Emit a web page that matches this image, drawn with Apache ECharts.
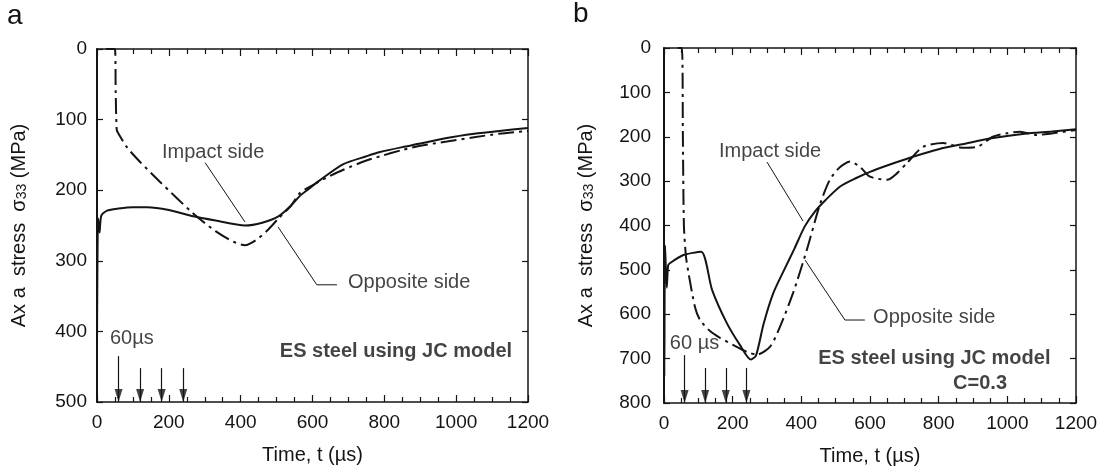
<!DOCTYPE html>
<html>
<head>
<meta charset="utf-8">
<script src="https://cdn.jsdelivr.net/npm/echarts@6/dist/echarts.min.js"></script>
<style>
  html, body { margin: 0; padding: 0; background: #fff; }
  #chart { width: 1103px; height: 472px; }
</style>
</head>
<body>
<div id="chart"></div>
<script>
// ---- Panel a: ES steel, Johnson-Cook model ----
const aImpactTime   = [0, 3, 7, 12, 28, 60, 100, 140, 200, 268, 330, 412, 460, 505, 540, 565, 585, 620, 686, 750, 788, 850, 900, 974, 1050, 1120, 1200];
const aImpactStress = [420, 240, 260, 236, 229, 226, 224, 224, 228, 237, 243, 250, 246, 237, 222, 208, 200, 186, 163, 152, 146, 139, 134, 126, 120, 116, 112];
const aOppTime      = [25, 50, 52, 55, 60, 83, 120, 175, 268, 330, 380, 412, 450, 480, 505, 540, 565, 600, 640, 686, 750, 788, 850, 900, 974, 1050, 1120, 1200];
const aOppStress    = [0, 0, 60, 115, 120, 139, 160, 188, 233, 258, 273, 278, 268, 254, 240, 222, 204, 193, 182, 171, 158, 152, 143, 137, 131, 125, 120, 116];

// ---- Panel b: ES steel, Johnson-Cook model, C = 0.3 ----
const bImpactTime   = [0, 1, 3, 8, 12, 17, 55, 108, 140, 183, 221, 253, 268, 290, 318, 350, 380, 410, 440, 470, 513, 560, 600, 660, 725, 800, 880, 958, 1050, 1130, 1200];
const bImpactStress = [450, 740, 445, 540, 490, 485, 467, 459, 545, 620, 669, 702, 693, 622, 553, 500, 452, 402, 368, 343, 312, 293, 279, 262, 245, 228, 215, 203, 193, 188, 183];
const bOppTime      = [40, 52, 55, 58, 64, 72, 90, 105, 134, 163, 201, 242, 271, 309, 338, 376, 416, 454, 483, 513, 542, 571, 600, 650, 679, 708, 754, 813, 871, 912, 958, 1000, 1037, 1086, 1133, 1200];
const bOppStress    = [0, 0, 200, 400, 470, 510, 583, 613, 638, 653, 669, 685, 691, 673, 628, 552, 455, 353, 297, 268, 256, 268, 290, 297, 282, 259, 223, 214, 225, 223, 200, 192, 189, 196, 192, 185];

// Output time steps marked with arrows (µs)
const snapshotTimes = [60, 120, 180, 240];

const FONT = "'Liberation Sans', Arial, Helvetica, sans-serif";
const INK = '#141414';
const DASH_DOT = [16, 5, 3, 5];

function pairs(ts, vs) { return ts.map((t, i) => [t, vs[i]]); }

function xAxes(gridIndex) {
  const common = {
    type: 'value', gridIndex, min: 0, max: 1200, interval: 200,
    axisLine: { show: true, onZero: false, lineStyle: { color: INK, width: 1.5 } },
    axisTick: { show: true, inside: true, length: 7, lineStyle: { color: INK, width: 1.2 } },
    minorTick: { show: true, splitNumber: 4, length: 5, lineStyle: { color: INK, width: 1.2 } },
    splitLine: { show: false }
  };
  return [
    Object.assign({}, common, {
      position: 'bottom',
      axisLabel: { color: INK, fontSize: 19, fontFamily: FONT, margin: 11, formatter: v => String(v) },
      name: 'Time, t (µs)', nameLocation: 'middle', nameGap: 43,
      nameTextStyle: { color: INK, fontSize: 20, fontFamily: FONT }
    }),
    Object.assign({}, common, { position: 'top', axisLabel: { show: false } })
  ];
}

function yAxes(gridIndex, max, labelMargin) {
  const common = {
    type: 'value', gridIndex, min: 0, max, interval: 100, inverse: true,
    axisLine: { show: true, onZero: false, lineStyle: { color: INK, width: 1.5 } },
    axisTick: { show: true, inside: true, length: 6, lineStyle: { color: INK, width: 1.2 } },
    splitLine: { show: false }
  };
  return [
    Object.assign({}, common, {
      position: 'left',
      axisLine: { show: true, onZero: false, lineStyle: { color: INK, width: 2 } },
      axisLabel: { color: INK, fontSize: 19, fontFamily: FONT, margin: labelMargin, formatter: v => String(v) },
      name: 'Ax a  stress  {s|σ}{sub|33} (MPa)', nameLocation: 'middle', nameGap: 68,
      nameTextStyle: {
        color: INK, fontSize: 20, fontFamily: FONT,
        rich: {
          s: { color: INK, fontSize: 20, fontFamily: FONT },
          sub: { color: INK, fontSize: 14, fontFamily: FONT, verticalAlign: 'bottom', lineHeight: 14 }
        }
      }
    }),
    Object.assign({}, common, { position: 'right', axisLabel: { show: false } })
  ];
}

function curve(name, data, xi, yi, dashed) {
  return {
    name, type: 'line', xAxisIndex: xi, yAxisIndex: yi, data,
    symbol: 'none', smooth: 0.25, silent: true,
    lineStyle: { color: INK, width: 2, type: dashed ? DASH_DOT : 'solid' }
  };
}

function leader(points, xi, yi) {
  return {
    type: 'line', xAxisIndex: xi, yAxisIndex: yi, data: points, symbol: 'none', silent: true,
    lineStyle: { color: INK, width: 1 }, z: 5
  };
}

function notes(items, xi, yi) {
  return {
    type: 'scatter', xAxisIndex: xi, yAxisIndex: yi, symbolSize: 0, silent: true, z: 6,
    data: items.map(it => ({
      value: [it.t, it.s],
      label: {
        show: true, position: 'right', distance: 0, formatter: it.text,
        color: INK, fontFamily: FONT, fontSize: 20, fontWeight: it.bold ? 'bold' : 'normal'
      }
    }))
  };
}

// Arrow shafts (mark lines) and heads (downward triangles sitting on the time axis)
function arrows(xi, yi, firstTop, restTop, bottom) {
  return [
    {
      type: 'line', xAxisIndex: xi, yAxisIndex: yi, data: [], silent: true,
      markLine: {
        silent: true, symbol: ['none', 'none'], label: { show: false },
        lineStyle: { color: INK, width: 1.2, type: 'solid' },
        data: snapshotTimes.map((t, i) => [
          { coord: [t, i === 0 ? firstTop : restTop] },
          { coord: [t, bottom] }
        ])
      }
    },
    {
      type: 'scatter', xAxisIndex: xi, yAxisIndex: yi, silent: true, clip: false, z: 4,
      symbol: 'triangle', symbolRotate: 180, symbolSize: [8, 13], symbolOffset: [0, -6.5],
      itemStyle: { color: INK },
      data: snapshotTimes.map(t => [t, bottom])
    }
  ];
}

const chart = echarts.init(document.getElementById('chart'));
chart.setOption({
  animation: false,
  backgroundColor: '#fff',
  grid: [
    { left: 97, top: 49, width: 431, height: 353 },
    { left: 664, top: 48, width: 412, height: 355 }
  ],
  xAxis: [...xAxes(0), ...xAxes(1)],
  yAxis: [...yAxes(0, 500, 10), ...yAxes(1, 800, 13)],
  graphic: [
    { type: 'text', left: 7, top: 2, style: { text: 'a', fontSize: 28, fontFamily: FONT, fill: INK } },
    { type: 'text', left: 573, top: 0, style: { text: 'b', fontSize: 28, fontFamily: FONT, fill: INK } }
  ],
  series: [
    curve('Impact side', pairs(aImpactTime, aImpactStress), 0, 0, false),
    curve('Opposite side', pairs(aOppTime, aOppStress), 0, 0, true),
    leader([[301, 161], [412, 245]], 0, 0),
    leader([[504, 252], [612, 334], [668, 334]], 0, 0),
    notes([
      { t: 181, s: 146, text: 'Impact side' },
      { t: 699, s: 331, text: 'Opposite side' },
      { t: 36, s: 410, text: '60µs' },
      { t: 509, s: 428, text: 'ES steel using JC model', bold: true }
    ], 0, 0),
    ...arrows(0, 0, 435, 452, 500),

    curve('Impact side', pairs(bImpactTime, bImpactStress), 2, 2, false),
    curve('Opposite side', pairs(bOppTime, bOppStress), 2, 2, true),
    leader([[300, 257], [405, 390]], 2, 2),
    leader([[411, 478], [527, 613], [585, 613]], 2, 2),
    notes([
      { t: 160, s: 234, text: 'Impact side' },
      { t: 609, s: 608, text: 'Opposite side' },
      { t: 17, s: 667, text: '60 µs' },
      { t: 449, s: 699, text: 'ES steel using JC model', bold: true },
      { t: 842, s: 755, text: 'C=0.3', bold: true }
    ], 2, 2),
    ...arrows(2, 2, 692, 721, 800)
  ]
});
</script>
</body>
</html>
